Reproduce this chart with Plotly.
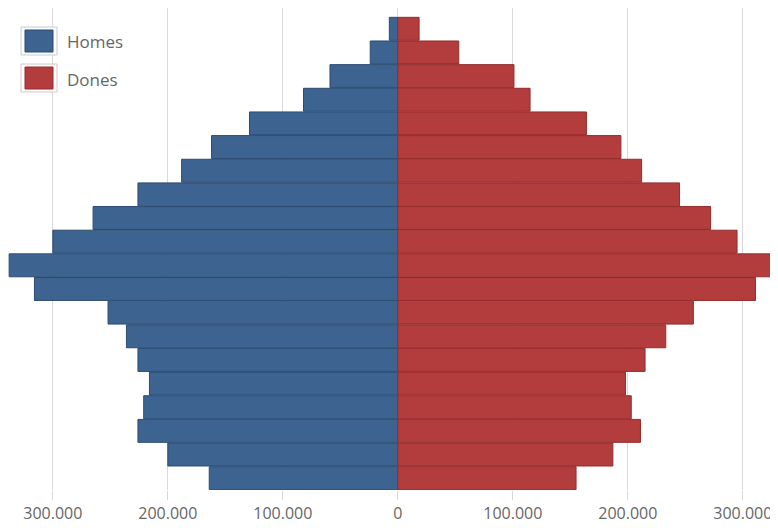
import plotly.graph_objects as go

# Age groups, youngest (bottom) to oldest (top)
age_groups = ["0-4", "5-9", "10-14", "15-19", "20-24", "25-29", "30-34", "35-39",
              "40-44", "45-49", "50-54", "55-59", "60-64", "65-69", "70-74",
              "75-79", "80-84", "85-89", "90-94", "95+"]

homes = [164000, 200000, 226000, 221000, 216000, 226000, 236000, 252000, 316000, 338000,
         300000, 265000, 226000, 188000, 162000, 129000, 82000, 59000, 24000, 7400]
dones = [155000, 187000, 211000, 203000, 198000, 215000, 233000, 257000, 311000, 326000,
         295000, 272000, 245000, 212000, 194000, 164000, 115000, 101000, 53000, 18500]

tick_vals = [-300000, -200000, -100000, 0, 100000, 200000, 300000]
tick_text = ["300.000", "200.000", "100.000", "0", "100.000", "200.000", "300.000"]

blue = "#3d6490"
blue_dark = "#2b4b72"
red = "#b33c3c"
red_dark = "#942c2c"

fig = go.Figure()
fig.add_trace(go.Bar(
    y=list(range(len(age_groups))), x=[-v for v in homes], orientation="h", name="Homes",
    marker=dict(color=blue, line=dict(color=blue_dark, width=1)),
    customdata=homes, text=age_groups, hovertemplate="%{text}: %{customdata}<extra>Homes</extra>",
    textposition="none",
))
fig.add_trace(go.Bar(
    y=list(range(len(age_groups))), x=dones, orientation="h", name="Dones",
    marker=dict(color=red, line=dict(color=red_dark, width=1)),
    text=age_groups, hovertemplate="%{text}: %{x}<extra>Dones</extra>",
    textposition="none",
))

# page has an 8px body margin, so the figure is sized to fit the visible window
OFF = 8
W, H = 770, 520
ml, mt = 0, 0
pw, ph = 767, 482
mr, mb = W - ml - pw, H - mt - ph

def px(x):  # page pixel -> paper x
    return (x - OFF - ml) / pw

def py(y):  # page pixel -> paper y
    return (mt + ph - (y - OFF)) / ph

shapes = []
annotations = []
legend_items = [("Homes", blue, blue_dark, "#c3ccd8", 41), ("Dones", red, red_dark, "#dcc4c4", 78)]
for name, c, cd, frame, cy in legend_items:
    shapes.append(dict(type="rect", xref="paper", yref="paper",
                       x0=px(21), x1=px(57), y0=py(cy - 14), y1=py(cy + 14),
                       fillcolor="white", line=dict(color=frame, width=1), layer="above"))
    shapes.append(dict(type="rect", xref="paper", yref="paper",
                       x0=px(25), x1=px(53), y0=py(cy - 11), y1=py(cy + 11),
                       fillcolor=c, line=dict(color=cd, width=1), layer="above"))
    annotations.append(dict(text=name, xref="paper", yref="paper", x=px(65), y=py(cy + 1),
                            xanchor="left", yanchor="middle", showarrow=False,
                            font=dict(family="Open Sans", size=17, color="#666666")))

fig.update_layout(
    width=W, height=H,
    margin=dict(l=ml, r=mr, t=mt, b=mb),
    barmode="relative", bargap=0.03,
    plot_bgcolor="white", paper_bgcolor="white",
    showlegend=False,
    shapes=shapes, annotations=annotations,
    font=dict(family="Open Sans", size=16, color="#666666"),
    xaxis=dict(range=[-339000, 328000], tickvals=tick_vals, ticktext=tick_text,
               showgrid=True, gridcolor="#d9d9d9", gridwidth=1, zeroline=False,
               ticks="outside", ticklen=9, tickcolor="#d9d9d9", showline=False,
               tickfont=dict(family="Open Sans", size=16, color="#666666")),
    yaxis=dict(range=[-0.5, 19.88], showticklabels=False, showgrid=False,
               zeroline=False, showline=False, ticks=""),
)

fig.write_html("out.html")
